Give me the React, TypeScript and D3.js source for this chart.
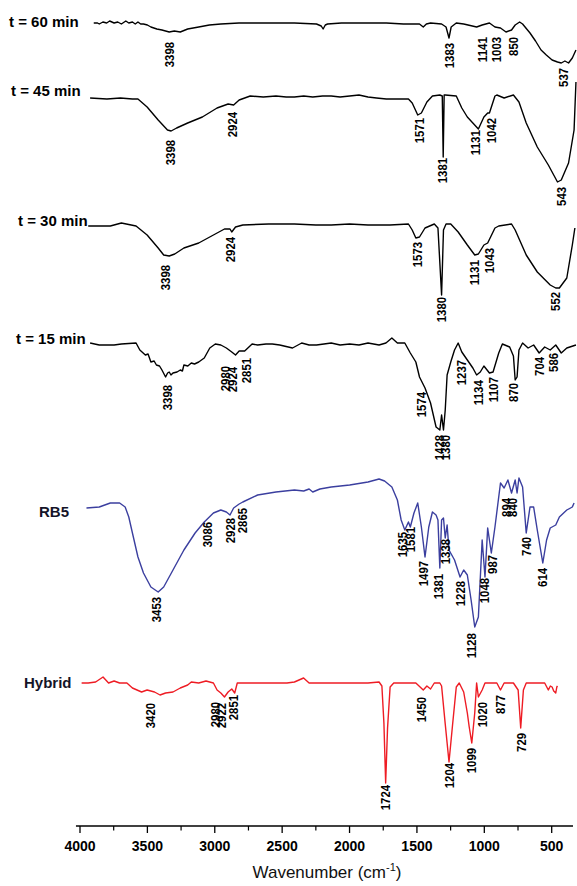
import React from "react";
import * as d3 from "d3";

type P = [number, number];
type Lbl = { t: string; w: number; v: number };

// ---- spectra: [wavenumber (cm-1), relative transmittance] ----
const t60Data: P[] = [
  [3898,100],[3870,100],[3857,99],[3830,101],[3802,100],[3780,102],[3747,100],[3720,101],[3693,99],[3660,102],[3638,100],[3611,101],[3590,99],[3570,101],[3550,99],[3529,99],[3500,98],[3474,96],[3430,94],[3392,93],[3338,91],[3300,92],[3256,91],[3201,94],[3119,96],[3040,98],[2955,99],[2820,100],[2682,100],[2540,100],[2409,100],[2245,99],[2210,97],[2196,94],[2180,98],[2163,99],[2060,100],[1972,100],[1850,100],[1727,100],[1600,99],[1481,99],[1453,96],[1430,99],[1399,100],[1317,99],[1284,96],[1262,85],[1246,96],[1208,100],[1153,99],[1057,96],[1016,98],[962,100],[921,96],[880,95],[839,91],[798,93],[771,98],[738,101],[716,99],[661,90],[620,82],[579,73],[540,68],[497,63],[457,61],[429,60],[402,62],[375,60],[347,65],[320,73]
];
const t45Data: P[] = [
  [3925,100],[3800,99],[3700,100],[3611,99],[3570,99],[3502,91],[3420,78],[3351,68],[3324,67],[3283,70],[3201,75],[3092,81],[2983,90],[2901,94],[2860,93],[2819,98],[2737,102],[2640,101],[2546,102],[2470,101],[2409,101],[2340,102],[2273,101],[2200,102],[2136,102],[2070,101],[1999,102],[1930,103],[1863,101],[1800,100],[1727,99],[1563,99],[1535,95],[1494,83],[1467,85],[1426,96],[1385,102],[1330,103],[1312,102],[1305,41],[1298,103],[1290,103],[1208,102],[1167,90],[1126,81],[1085,75],[1044,69],[1003,81],[975,85],[962,85],[921,102],[907,103],[853,100],[784,103],[743,96],[689,75],[607,51],[525,33],[457,16],[429,18],[375,35],[334,68],[320,116]
];
const t30Data: P[] = [
  [3939,99],[3775,99],[3693,102],[3584,99],[3502,90],[3420,77],[3379,70],[3338,69],[3297,71],[3229,77],[3119,82],[3010,90],[2928,96],[2887,96],[2874,93],[2846,98],[2792,100],[2600,101],[2409,101],[2250,100],[2136,100],[2000,101],[1863,100],[1700,100],[1563,101],[1535,95],[1508,87],[1481,88],[1440,97],[1371,101],[1344,97],[1317,30],[1303,95],[1284,101],[1249,101],[1194,93],[1126,80],[1071,70],[1044,71],[1003,80],[975,82],[921,97],[893,99],[798,101],[771,95],[689,70],[607,53],[511,40],[470,37],[443,37],[388,47],[347,80],[328,97]
];
const t15Data: P[] = [
  [3925,101],[3857,99],[3747,99],[3693,100],[3584,101],[3556,94],[3515,89],[3495,90],[3474,82],[3450,83],[3433,79],[3410,78],[3392,74],[3365,67],[3350,71],[3338,72],[3325,69],[3310,71],[3280,72],[3256,74],[3240,73],[3229,79],[3200,78],[3174,81],[3150,80],[3119,82],[3078,86],[3037,96],[2996,100],[2955,99],[2914,96],[2874,92],[2846,89],[2819,93],[2778,93],[2723,100],[2682,99],[2620,100],[2573,100],[2518,99],[2423,96],[2355,101],[2300,99],[2245,99],[2190,100],[2136,101],[2070,99],[1999,100],[1930,99],[1863,101],[1781,99],[1730,101],[1686,106],[1645,101],[1590,101],[1549,91],[1508,82],[1481,67],[1440,56],[1399,41],[1358,17],[1330,14],[1317,29],[1303,14],[1290,34],[1276,69],[1249,82],[1221,94],[1194,101],[1167,92],[1126,84],[1085,76],[1057,69],[1030,72],[1003,78],[962,71],[935,72],[893,91],[866,100],[812,97],[784,88],[771,64],[757,67],[743,94],[716,101],[675,96],[634,99],[593,91],[552,97],[511,94],[470,99],[429,91],[388,96],[320,99]
];
const rb5Data: P[] = [
  [3952,100],[3857,101],[3775,105],[3706,105],[3665,101],[3638,91],[3611,75],[3570,51],[3529,35],[3474,21],[3420,16],[3379,21],[3310,38],[3229,58],[3146,75],[3078,86],[3010,95],[2955,98],[2914,96],[2887,93],[2860,100],[2819,104],[2792,106],[2682,113],[2546,116],[2409,118],[2340,117],[2300,119],[2273,116],[2220,119],[2136,121],[1999,123],[1863,126],[1781,129],[1740,127],[1686,121],[1645,108],[1617,88],[1590,78],[1563,86],[1549,81],[1522,95],[1494,105],[1467,81],[1440,51],[1412,81],[1385,96],[1358,93],[1344,88],[1330,40],[1317,88],[1303,90],[1290,70],[1276,83],[1262,58],[1221,48],[1180,31],[1153,38],[1126,33],[1098,8],[1071,-19],[1044,-9],[1016,68],[995,31],[975,80],[948,55],[921,81],[880,125],[853,120],[825,128],[798,115],[771,128],[757,115],[743,130],[716,121],[689,75],[661,101],[634,101],[607,78],[566,45],[538,68],[511,80],[470,83],[443,91],[388,98],[347,101],[334,105]
];
const hybridData: P[] = [
  [3988,100],[3939,100],[3884,101],[3829,106],[3788,100],[3747,102],[3706,100],[3652,100],[3611,95],[3543,91],[3502,93],[3447,91],[3406,88],[3365,90],[3310,91],[3256,95],[3201,98],[3174,101],[3119,100],[3065,102],[3010,100],[2983,93],[2955,90],[2928,86],[2901,91],[2874,94],[2852,90],[2833,100],[2737,100],[2628,100],[2464,100],[2409,101],[2341,105],[2300,100],[2191,100],[1999,100],[1863,100],[1781,101],[1760,97],[1745,60],[1732,0],[1718,55],[1699,96],[1672,100],[1508,100],[1453,93],[1426,97],[1399,94],[1371,100],[1330,100],[1317,97],[1290,59],[1262,21],[1235,59],[1208,96],[1186,100],[1153,91],[1126,70],[1112,56],[1093,40],[1071,70],[1057,100],[1044,86],[1016,93],[995,100],[907,100],[880,93],[853,100],[784,100],[749,93],[730,55],[710,93],[689,100],[552,100],[525,93],[510,97],[497,96],[485,92],[470,90],[462,96],[457,97]
];

// ---- peak annotations: text, position (cm-1), top of label (transmittance) ----
const t60Peaks: Lbl[] = [
  { t: "3398", w: 3338, v: 81 }, { t: "1383", w: 1262, v: 80 }, { t: "1141", w: 1016, v: 86 },
  { t: "1003", w: 907, v: 86 }, { t: "850", w: 784, v: 86 }, { t: "537", w: 416, v: 55 },
];
const t45Peaks: Lbl[] = [
  { t: "3398", w: 3332, v: 58 }, { t: "2924", w: 2868, v: 86 }, { t: "1571", w: 1481, v: 80 },
  { t: "1381", w: 1312, v: 40 }, { t: "1131", w: 1068, v: 68 }, { t: "1042", w: 946, v: 80 },
  { t: "543", w: 429, v: 11 },
];
const t30Peaks: Lbl[] = [
  { t: "3398", w: 3365, v: 60 }, { t: "2924", w: 2887, v: 88 }, { t: "1573", w: 1494, v: 83 },
  { t: "1380", w: 1317, v: 28 }, { t: "1131", w: 1071, v: 65 }, { t: "1043", w: 962, v: 77 },
  { t: "552", w: 470, v: 33 },
];
const t15Peaks: Lbl[] = [
  { t: "3398", w: 3351, v: 59 }, { t: "2980", w: 2923, v: 78 }, { t: "2924", w: 2868, v: 77 },
  { t: "2851", w: 2765, v: 86 }, { t: "1574", w: 1467, v: 52 }, { t: "1428", w: 1330, v: 9 },
  { t: "1380", w: 1290, v: 9 }, { t: "1237", w: 1167, v: 84 }, { t: "1134", w: 1044, v: 64 },
  { t: "1107", w: 935, v: 67 }, { t: "870", w: 784, v: 61 }, { t: "704", w: 593, v: 87 },
  { t: "586", w: 484, v: 91 },
];
const rb5Peaks: Lbl[] = [
  { t: "3453", w: 3433, v: 11 }, { t: "3086", w: 3051, v: 86 }, { t: "2928", w: 2887, v: 90 },
  { t: "2865", w: 2792, v: 100 }, { t: "1635", w: 1608, v: 76 }, { t: "1581", w: 1546, v: 81 },
  { t: "1497", w: 1453, v: 47 }, { t: "1381", w: 1340, v: 34 }, { t: "1338", w: 1288, v: 69 },
  { t: "1228", w: 1180, v: 27 }, { t: "1128", w: 1094, v: -25 }, { t: "1048", w: 995, v: 30 },
  { t: "987", w: 936, v: 53 }, { t: "894", w: 836, v: 110 }, { t: "840", w: 790, v: 110 },
  { t: "740", w: 685, v: 71 }, { t: "614", w: 570, v: 40 },
];
const hybridPeaks: Lbl[] = [
  { t: "3420", w: 3474, v: 80 }, { t: "2980", w: 2996, v: 81 }, { t: "2922", w: 2947, v: 80 },
  { t: "2851", w: 2860, v: 88 }, { t: "1724", w: 1732, v: -2 }, { t: "1450", w: 1467, v: 86 },
  { t: "1204", w: 1257, v: 20 }, { t: "1099", w: 1093, v: 35 }, { t: "1020", w: 1016, v: 81 },
  { t: "877", w: 880, v: 88 }, { t: "729", w: 721, v: 50 },
];

const seriesNames = ["t = 60 min", "t = 45 min", "t = 30 min", "t = 15 min", "RB5", "Hybrid"];
const majorTicks = [4000, 3500, 3000, 2500, 2000, 1500, 1000, 500];
const minorTicks = [3750, 3250, 2750, 2250, 1750, 1250, 750];

const W = 577, H = 886;

const x = d3.scaleLinear().domain([4000, 500]).range([80, 551.7]);

type Panel = {
  name: string; data: P[]; peaks: Lbl[]; base: number; color: string;
  lx: number; ly: number; lcolor: string;
};

const panels: Panel[] = [
  { name: seriesNames[0], data: t60Data, peaks: t60Peaks, base: 23, color: "#000", lx: 9, ly: 21.5, lcolor: "#000" },
  { name: seriesNames[1], data: t45Data, peaks: t45Peaks, base: 98, color: "#000", lx: 11, ly: 90, lcolor: "#000" },
  { name: seriesNames[2], data: t30Data, peaks: t30Peaks, base: 225, color: "#000", lx: 18, ly: 220, lcolor: "#000" },
  { name: seriesNames[3], data: t15Data, peaks: t15Peaks, base: 344, color: "#000", lx: 16, ly: 338, lcolor: "#000" },
  { name: seriesNames[4], data: rb5Data, peaks: rb5Peaks, base: 508, color: "#3b3f9f", lx: 39, ly: 511, lcolor: "#141428" },
  { name: seriesNames[5], data: hybridData, peaks: hybridPeaks, base: 683, color: "#ee1c24", lx: 24, ly: 682, lcolor: "#141428" },
];

export default function App() {
  const axisY = 826;
  return (
    <svg width={W} height={H} style={{ position: "absolute", left: 0, top: 0, background: "#fff" }}
      fontFamily="'Liberation Sans', Arial, sans-serif">
      <rect width={W} height={H} fill="#fff" />
      {panels.map((p, i) => {
        const y = d3.scaleLinear().domain([100, 0]).range([p.base, p.base + 100]);
        const line = d3.line<P>().x((d) => x(d[0])).y((d) => y(d[1]));
        return (
          <g key={i}>
            <path d={line(p.data) || ""} fill="none" stroke={p.color} strokeWidth={1.4} strokeLinejoin="round" />
            <text x={p.lx} y={p.ly} dominantBaseline="central" fontSize={15} fontWeight="bold" fill={p.lcolor}>
              {p.name}
            </text>
            {p.peaks.map((l, j) => (
              <text key={j} transform={`translate(${x(l.w)},${y(l.v)}) rotate(-90)`} textAnchor="end"
                dominantBaseline="central" fontSize={13} fontWeight="bold" fill="#000"
                textLength={l.t.length * 6.3} lengthAdjust="spacingAndGlyphs">
                {l.t}
              </text>
            ))}
          </g>
        );
      })}
      {/* x axis */}
      <line x1={x(4030)} x2={x(342)} y1={axisY} y2={axisY} stroke="#000" strokeWidth={1.3} />
      {majorTicks.map((t) => (
        <g key={t}>
          <line x1={x(t)} x2={x(t)} y1={axisY} y2={axisY + 7} stroke="#000" strokeWidth={1.3} />
          <text x={x(t)} y={axisY + 19} textAnchor="middle" dominantBaseline="central" fontSize={15}
            fontWeight="bold" textLength={String(t).length * 7.8} lengthAdjust="spacingAndGlyphs">
            {t}
          </text>
        </g>
      ))}
      {minorTicks.map((t) => (
        <line key={t} x1={x(t)} x2={x(t)} y1={axisY} y2={axisY + 4.5} stroke="#000" strokeWidth={1.2} />
      ))}
      <text x={327} y={878} textAnchor="middle" fontSize={17} fill="#111">
        Wavenumber (cm
        <tspan fontSize={11} dy={-7}>-1</tspan>
        <tspan dy={7}>)</tspan>
      </text>
    </svg>
  );
}
